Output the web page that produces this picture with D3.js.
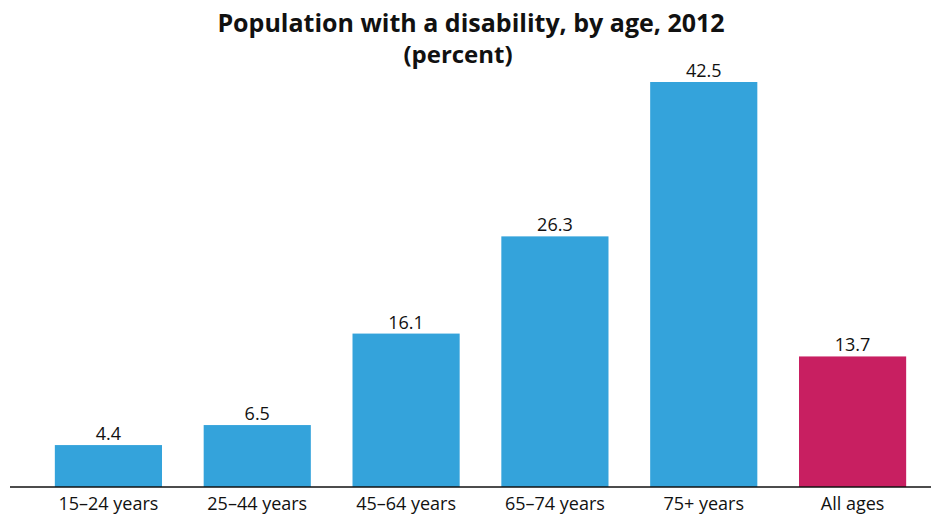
<!DOCTYPE html>
<html>
<head>
<meta charset="utf-8">
<script src="https://cdn.jsdelivr.net/npm/d3@7"></script>
<style>
  body { margin: 0; background: #fff; }
  text { font-family: "Open Sans", sans-serif; fill: #111; }
</style>
</head>
<body>
<script>
// data
const ageGroups = ["15–24 years", "25–44 years", "45–64 years", "65–74 years", "75+ years", "All ages"];
const percents = [4.4, 6.5, 16.1, 26.3, 42.5, 13.7];
const titleLines = ["Population with a disability, by age, 2012", "(percent)"];

const width = 931, height = 515;
const baseY = 487;

const svg = d3.select("body").append("svg")
    .attr("width", width)
    .attr("height", height);

const data = ageGroups.map((g, i) => ({group: g, value: percents[i]}));

// set the ranges
const x = d3.scaleBand()
    .domain(ageGroups)
    .range([34, 927])
    .paddingInner(0.28)
    .paddingOuter(0.14);

const y = d3.scaleLinear()
    .domain([0, 42.5])
    .range([baseY, 82]);

// bars
svg.selectAll(".bar")
    .data(data)
  .enter().append("rect")
    .attr("class", "bar")
    .attr("x", d => x(d.group))
    .attr("width", x.bandwidth())
    .attr("y", d => y(d.value))
    .attr("height", d => baseY - y(d.value))
    .attr("fill", d => d.group === "All ages" ? "#c81f61" : "#34a3db");

// value labels
svg.selectAll(".val")
    .data(data)
  .enter().append("text")
    .attr("class", "val")
    .attr("x", d => x(d.group) + x.bandwidth() / 2)
    .attr("y", d => y(d.value) - 5)
    .attr("text-anchor", "middle")
    .style("font-size", "18px")
    .text(d => d.value.toFixed(1));

// x axis
const xAxis = svg.append("g")
    .attr("transform", `translate(0,${baseY})`)
    .call(d3.axisBottom(x).tickSize(0).tickPadding(10));
xAxis.select(".domain").remove();
xAxis.append("line")
    .attr("x1", 10).attr("x2", width)
    .attr("stroke", "#111").attr("stroke-width", 1.5);
xAxis.selectAll(".tick text")
    .style("font-family", "'Open Sans', sans-serif")
    .style("font-size", "18px")
    .attr("fill", "#111");

// title
svg.append("text")
    .attr("x", 471).attr("y", 32)
    .attr("text-anchor", "middle")
    .style("font-size", "25px").style("font-weight", "bold")
    .text(titleLines[0]);
svg.append("text")
    .attr("x", 458).attr("y", 63)
    .attr("text-anchor", "middle")
    .style("font-size", "24px").style("font-weight", "bold")
    .text(titleLines[1]);
</script>
</body>
</html>
